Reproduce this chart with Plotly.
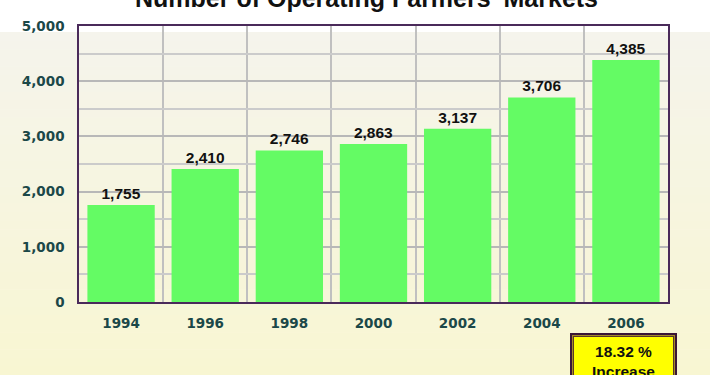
import plotly.graph_objects as go

years = ["1994", "1996", "1998", "2000", "2002", "2004", "2006"]
markets = [1755, 2410, 2746, 2863, 3137, 3706, 4385]
y_ticks = [0, 1000, 2000, 3000, 4000, 5000]
title_text = "Number of Operating Farmers' Markets"

W, H = 710, 375
L, R, T, B = 79, 42, 26, 73
PW, PH = W - L - R, H - T - B

def px_x(px):
    return (px - L) / PW

def px_y(py):
    return (H - B - py) / PH

x_idx = list(range(len(years)))
pct = (markets[-1] / markets[-2] - 1) * 100

fig = go.Figure()
fig.add_trace(go.Bar(
    x=x_idx, y=markets,
    marker=dict(color="#64fb64", line=dict(width=0)),
    text=[f"{v:,}" for v in markets],
    textposition="outside",
    textfont=dict(family="Liberation Sans", size=15.5, color="#111111", weight="bold"),
    cliponaxis=False,
    width=0.8,
))

shapes = []
# background gradient bands
top_c = (245, 244, 236)
bot_c = (248, 246, 210)
n = 40
y0p, y1p = 32, H
for i in range(n):
    a = y0p + (y1p - y0p) * i / n
    b = y0p + (y1p - y0p) * (i + 1) / n + 0.5
    t = (i + 0.5) / n
    c = tuple(round(top_c[k] + (bot_c[k] - top_c[k]) * t) for k in range(3))
    shapes.append(dict(type="rect", xref="paper", yref="paper",
                       x0=px_x(0), x1=px_x(W), y0=px_y(b), y1=px_y(a),
                       fillcolor=f"rgb{c}", line=dict(width=0), layer="below"))

# yellow box
bx0, bx1, by0, by1 = 570, 677, 333, 400
layers = [("#3a1636", 0), ("#a58a2a", 2), ("#5a3a2a", 3), ("#ffff00", 4)]
for col, ins in layers:
    shapes.append(dict(type="rect", xref="paper", yref="paper",
                       x0=px_x(bx0 + ins), x1=px_x(bx1 - ins),
                       y0=px_y(by1 - ins), y1=px_y(by0 + ins),
                       fillcolor=col, line=dict(width=0), layer="above"))

annotations = [
    dict(text=title_text, xref="paper", yref="paper", x=px_x(366), y=px_y(-2),
         xanchor="center", yanchor="middle", showarrow=False,
         font=dict(family="Liberation Sans", size=25, color="#111111", weight="bold")),
    dict(text=f"{pct:.2f} %<br>Increase", xref="paper", yref="paper",
         x=px_x(623), y=px_y(341), xanchor="center", yanchor="top", showarrow=False,
         align="center",
         font=dict(family="Liberation Sans", size=15.5, color="#111111", weight="bold")),
]

tickfont = dict(family="DejaVu Sans", size=13.5, color="#1b4848", weight="bold")

fig.update_layout(
    width=W, height=H,
    margin=dict(l=L, r=R, t=T, b=B, pad=0),
    paper_bgcolor="white",
    plot_bgcolor="rgba(0,0,0,0)",
    showlegend=False,
    shapes=shapes,
    annotations=annotations,
    xaxis=dict(
        range=[-0.5, len(years) - 0.5],
        tickvals=x_idx, ticktext=years,
        showgrid=False, zeroline=False,
        ticks="outside", ticklen=8, tickcolor="rgba(0,0,0,0)",
        tickfont=tickfont,
        showline=True, linecolor="#4a2a5a", linewidth=1.5, mirror=True,
        minor=dict(tick0=-0.5, dtick=1, showgrid=True, gridcolor="#c0c0c0",
                   gridwidth=1.5, ticks=""),
    ),
    yaxis=dict(
        range=[0, 5000],
        tickvals=y_ticks, ticktext=[f"{v:,}" for v in y_ticks],
        showgrid=True, gridcolor="#b8b8b8", gridwidth=1.5,
        zeroline=False,
        ticks="outside", ticklen=10, tickcolor="rgba(0,0,0,0)",
        tickfont=tickfont,
        showline=True, linecolor="#4a2a5a", linewidth=1.5, mirror=True,
        minor=dict(dtick=500, showgrid=True, gridcolor="#cbcbcb", gridwidth=1.5, ticks=""),
    ),
    bargap=0.2,
)

fig.write_html("out.html", config={"displayModeBar": False},
               post_script="document.body.style.margin='0';document.body.style.overflow='hidden';")
